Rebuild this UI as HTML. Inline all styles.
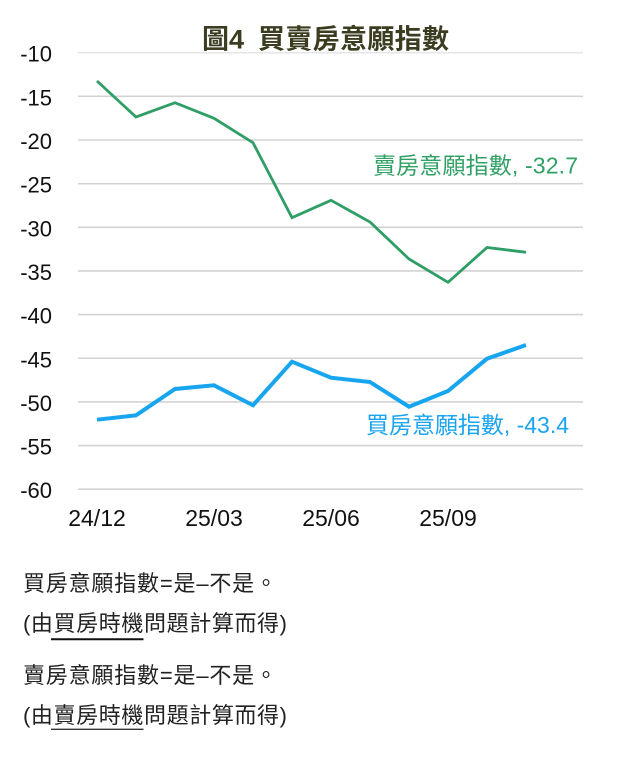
<!DOCTYPE html>
<html>
<head>
<meta charset="utf-8">
<style>
html,body{margin:0;padding:0;background:#fff;}
svg{display:block;}
</style>
</head>
<body>
<svg width="620" height="766" viewBox="0 0 620 766" xmlns="http://www.w3.org/2000/svg">
  <rect width="620" height="766" fill="#fff"/>
  <!-- title -->
  <text y="48.5" font-family="'Liberation Sans','Noto Sans CJK TC',sans-serif" font-size="27" font-weight="bold" fill="#3b3c20">
    <tspan x="202">圖4</tspan><tspan x="258" textLength="191" lengthAdjust="spacing">買賣房意願指數</tspan>
  </text>
  <!-- gridlines -->
  <g stroke="#d3d3d3" stroke-width="1.6">
    <line x1="78" x2="583" y1="52.7" y2="52.7" stroke="#e6e6e6"/>
    <line x1="78" x2="583" y1="96.35" y2="96.35"/>
    <line x1="78" x2="583" y1="140" y2="140"/>
    <line x1="78" x2="583" y1="183.65" y2="183.65"/>
    <line x1="78" x2="583" y1="227.3" y2="227.3"/>
    <line x1="78" x2="583" y1="270.95" y2="270.95"/>
    <line x1="78" x2="583" y1="314.6" y2="314.6"/>
    <line x1="78" x2="583" y1="358.25" y2="358.25"/>
    <line x1="78" x2="583" y1="401.9" y2="401.9"/>
    <line x1="78" x2="583" y1="445.55" y2="445.55"/>
    <line x1="78" x2="583" y1="489.2" y2="489.2"/>
  </g>
  <!-- y labels -->
  <g font-family="'Liberation Sans',sans-serif" font-size="22" fill="#111" text-anchor="end">
    <text x="52" y="61.7">-10</text>
    <text x="52" y="105.35">-15</text>
    <text x="52" y="149">-20</text>
    <text x="52" y="192.65">-25</text>
    <text x="52" y="236.3">-30</text>
    <text x="52" y="279.95">-35</text>
    <text x="52" y="323.6">-40</text>
    <text x="52" y="367.25">-45</text>
    <text x="52" y="410.9">-50</text>
    <text x="52" y="454.55">-55</text>
    <text x="52" y="498.2">-60</text>
  </g>
  <!-- x labels -->
  <g font-family="'Liberation Sans',sans-serif" font-size="23" fill="#111" text-anchor="middle">
    <text x="97" y="526">24/12</text>
    <text x="214" y="526">25/03</text>
    <text x="331" y="526">25/06</text>
    <text x="448" y="526">25/09</text>
  </g>
  <!-- series -->
  <polyline fill="none" stroke="#2f9e66" stroke-width="2.8" stroke-linejoin="miter"
    points="97,81 136,117 175,102.7 214,118.3 253,142.7 292,217.7 331,200.3 370,222 409,259 448,282.3 487,247.5 526,252.3"/>
  <polyline fill="none" stroke="#17a5f0" stroke-width="4" stroke-linejoin="miter"
    points="97,419.7 136,415.3 175,389 214,385.3 253,405.3 292,361.7 331,377.7 370,382 409,406.7 448,391 487,358.7 526,345"/>
  <!-- series labels -->
  <text x="373" y="173.5" font-family="'Liberation Sans','Noto Sans CJK TC',sans-serif" font-size="23" fill="#31a065" textLength="205" lengthAdjust="spacing">賣房意願指數, -32.7</text>
  <text x="366" y="433" font-family="'Liberation Sans','Noto Sans CJK TC',sans-serif" font-size="23" fill="#1aa3ee" textLength="203" lengthAdjust="spacing">買房意願指數, -43.4</text>
  <!-- footnotes -->
  <g font-family="'Liberation Sans','Noto Sans CJK TC',sans-serif" font-size="22" fill="#222">
    <text x="23" y="591" textLength="254" lengthAdjust="spacing">買房意願指數=是–不是。</text>
    <text x="23" y="631" textLength="264" lengthAdjust="spacing">(由買房時機問題計算而得)</text>
    <text x="23" y="683" textLength="254" lengthAdjust="spacing">賣房意願指數=是–不是。</text>
    <text x="23" y="723" textLength="264" lengthAdjust="spacing">(由賣房時機問題計算而得)</text>
  </g>
  <line x1="51" x2="143.5" y1="639.3" y2="639.3" stroke="#111" stroke-width="2"/>
  <line x1="51" x2="143.5" y1="729.3" y2="729.3" stroke="#333" stroke-width="1.4"/>
</svg>
</body>
</html>
